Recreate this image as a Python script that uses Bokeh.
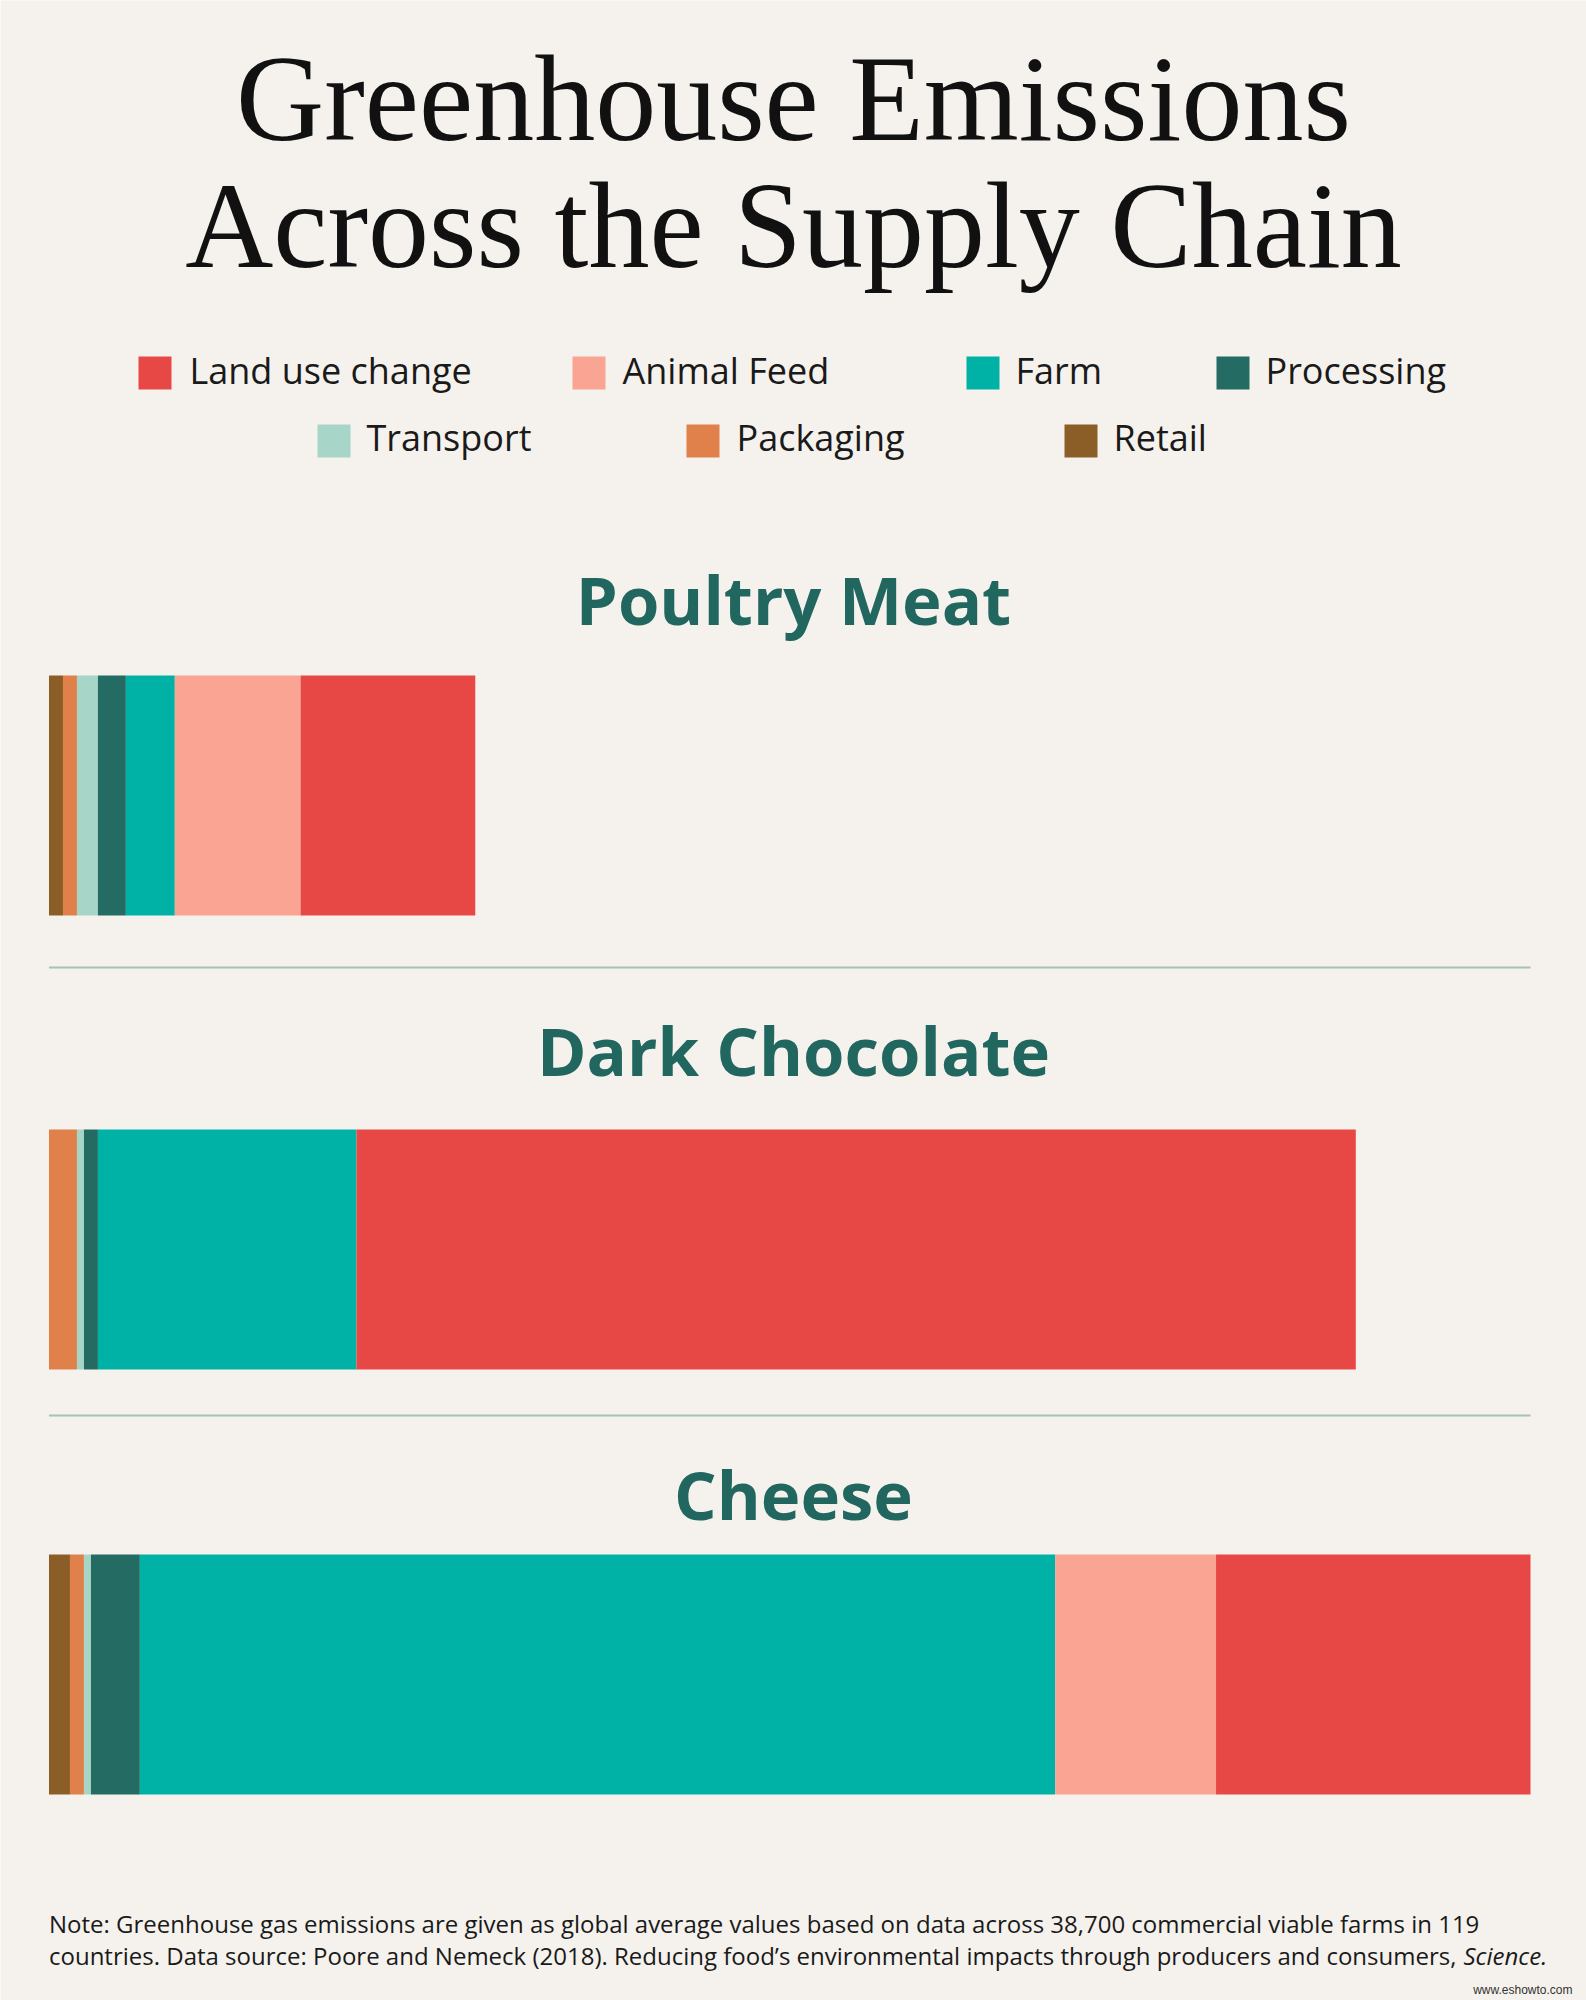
from bokeh.plotting import figure
from bokeh.models import Range1d, ColumnDataSource
from bokeh.core.properties import value
from bokeh.embed import file_html
from bokeh.resources import INLINE

# ---------------- data (kg CO2-eq per kg of product) ----------------
foods = ["Poultry Meat", "Dark Chocolate", "Cheese"]
stage_keys = ["retail", "packaging", "transport", "processing", "farm", "animal_feed", "land_use"]
stage_names = ["Retail", "Packaging", "Transport", "Processing", "Farm", "Animal Feed", "Land use change"]
retail = [0.2, 0.0, 0.3]
packaging = [0.2, 0.4, 0.2]
transport = [0.3, 0.1, 0.1]
processing = [0.4, 0.2, 0.7]
farm = [0.7, 3.7, 13.1]
animal_feed = [1.8, 0.0, 2.3]
land_use = [2.5, 14.3, 4.5]

legend_order = ["Land use change", "Animal Feed", "Farm", "Processing", "Transport", "Packaging", "Retail"]

title_lines = ["Greenhouse Emissions", "Across the Supply Chain"]
note_line1 = ("Note: Greenhouse gas emissions are given as global average values based on data "
              "across 38,700 commercial viable farms in 119")
note_line2 = ("countries. Data source: Poore and Nemeck (2018). Reducing food\u2019s environmental "
              "impacts through producers and consumers,")
note_italic = "Science"
watermark = "www.eshowto.com"

# ---------------- styles / layout ----------------
W, H = 1586, 2000
BG = "#F5F2ED"
colors = {
    "Retail": "#8B5E27",
    "Packaging": "#E0804A",
    "Transport": "#A7D6C8",
    "Processing": "#236B63",
    "Farm": "#00B2A6",
    "Animal Feed": "#FAA593",
    "Land use change": "#E84845",
}
HEAD_COLOR = "#22675F"
LEFT_PX, RIGHT_PX = 48.5, 1530.0


def bl(y, size):
    # compensate the baseline offset seen in the svg text rendering
    return y - 0.38 * size


totals = [sum(v) for v in zip(retail, packaging, transport, processing, farm, animal_feed, land_use)]
max_total = max(totals)
scale = (RIGHT_PX - LEFT_PX) / max_total
x_start = -LEFT_PX / scale
x_end = (W - LEFT_PX) / scale

bar_centers = [795, 1249, 1674]
bar_height = 240
head_baselines = [624, 1075, 1519]

p = figure(width=W, height=H, x_range=Range1d(x_start, x_end), y_range=Range1d(H, 0),
           toolbar_location=None, output_backend="svg", min_border=0,
           min_border_left=0, min_border_right=0, min_border_top=0, min_border_bottom=0,
           x_axis_location=None, y_axis_location=None,
           background_fill_color=BG, border_fill_color=BG, outline_line_color=None)
p.grid.visible = False
p.extra_x_ranges = {"px": Range1d(0, W)}

# ---------------- bars ----------------
src = ColumnDataSource(dict(
    y=bar_centers, food=foods,
    retail=retail, packaging=packaging, transport=transport, processing=processing,
    farm=farm, animal_feed=animal_feed, land_use=land_use,
))
p.hbar_stack(stage_keys, y="y", height=bar_height, source=src,
             color=[colors[n] for n in stage_names], line_color=None)

# ---------------- title ----------------
TS = 122
p.text(x=[793, 793], y=[bl(144, TS), bl(271, TS)], text=title_lines, x_range_name="px",
       text_font=value("Liberation Serif"), text_font_size=f"{TS}px",
       text_color="#111111", text_align="center", text_baseline="alphabetic")

# ---------------- legend ----------------
LS = 36
sq_left = [138, 572, 966, 1216, 317, 686, 1064]
sq_top = [356, 356, 356, 356, 424, 424, 424]
txt_x = [189, 622, 1015, 1265, 366, 736, 1113]
txt_y = [384, 384, 384, 384, 451, 451, 451]
sq = 33
p.quad(left=sq_left, right=[v + sq for v in sq_left], top=sq_top, bottom=[v + sq for v in sq_top],
       color=[colors[n] for n in legend_order], line_color=None, x_range_name="px")
p.text(x=txt_x, y=[bl(v, LS) for v in txt_y], text=legend_order, x_range_name="px",
       text_font=value("Open Sans"), text_font_size=f"{LS}px", text_color="#1a1a1a",
       text_align="left", text_baseline="alphabetic")

# ---------------- section headings ----------------
HS = 67
p.text(x=[793] * 3, y=[bl(v, HS) for v in head_baselines], text=foods, x_range_name="px",
       text_font=value("Open Sans"), text_font_size=f"{HS}px", text_font_style="bold",
       text_color=HEAD_COLOR, text_align="center", text_baseline="alphabetic")

# ---------------- separators ----------------
p.segment(x0=[LEFT_PX, LEFT_PX], x1=[RIGHT_PX, RIGHT_PX], y0=[967, 1415], y1=[967, 1415],
          line_color="#A8C2B6", line_width=2, x_range_name="px")

# ---------------- note ----------------
NS = 24
p.text(x=[48.5, 48.5], y=[bl(1932, NS), bl(1964, NS)], text=[note_line1, note_line2], x_range_name="px",
       text_font=value("Open Sans"), text_font_size=f"{NS}px", text_color="#1a1a1a",
       text_align="left", text_baseline="alphabetic")
p.text(x=[1463], y=[bl(1964, NS)], text=[note_italic + "."], x_range_name="px",
       text_font=value("Open Sans"), text_font_size=f"{NS}px", text_font_style="italic",
       text_color="#1a1a1a", text_align="left", text_baseline="alphabetic")

p.text(x=[1572], y=[bl(1994, 12)], text=[watermark], x_range_name="px",
       text_font=value("Liberation Sans"), text_font_size="12px", text_color="#333333",
       text_align="right", text_baseline="alphabetic")

open("out.html", "w").write(file_html(p, INLINE))
